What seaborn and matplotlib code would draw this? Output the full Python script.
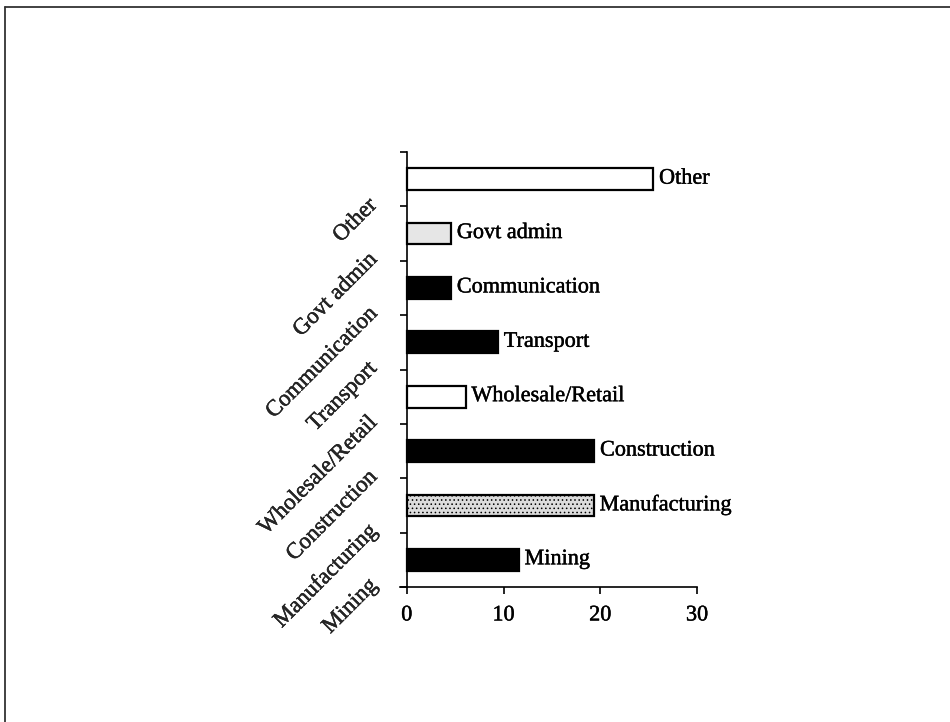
import numpy as np
import pandas as pd
import matplotlib
matplotlib.use("Agg")
import matplotlib.pyplot as plt
import matplotlib.patheffects as pe
from matplotlib.transforms import ScaledTranslation
from matplotlib.lines import Line2D
import seaborn as sns

# Share of employment by sector (%)
sectors = ["Other", "Govt admin", "Communication", "Transport",
           "Wholesale/Retail", "Construction", "Manufacturing", "Mining"]
shares = [25.5, 4.6, 4.6, 9.45, 6.1, 19.4, 19.35, 11.6]
x_ticks = [0, 10, 20, 30]

bar_colors = {
    "Other": "#ffffff",
    "Govt admin": "#e6e6e6",
    "Communication": "#000000",
    "Transport": "#000000",
    "Wholesale/Retail": "#ffffff",
    "Construction": "#000000",
    "Manufacturing": "#dcdcdc",
    "Mining": "#000000",
}

sns.set_theme(style="white")
plt.rcParams["font.family"] = ["Liberation Serif", "DejaVu Serif"]
plt.rcParams["hatch.linewidth"] = 0.6

# slightly heavier glyphs for all text
heavy = [pe.withStroke(linewidth=0.3, foreground="black")]

df = pd.DataFrame({"sector": sectors, "share": shares})

fig = plt.figure(figsize=(9.5, 7.22), dpi=100)
ax = fig.add_axes([400 / 950, 1 - 587 / 722, 297 / 950, 435 / 722])

sns.barplot(data=df, y="sector", x="share", hue="sector", order=sectors,
            palette=bar_colors, orient="h", width=0.40, legend=False,
            edgecolor="black", linewidth=1.6, saturation=1, ax=ax)

for patch, name in zip(ax.patches, sectors):
    if name == "Manufacturing":
        patch.set_hatch("....")

# Sector names next to the bar ends
for i, (name, val) in enumerate(zip(sectors, shares)):
    ax.annotate(name, xy=(val, i), xytext=(4, 0), textcoords="offset points",
                ha="left", va="center", fontsize=16, color="black",
                path_effects=heavy)

ax.set_xlim(-0.7, 30)
ax.set_ylim(len(sectors) - 0.5, -0.5)
ax.set_xlabel("")
ax.set_ylabel("")

ax.spines["top"].set_visible(False)
ax.spines["right"].set_visible(False)
ax.spines["left"].set_position(("data", 0))
for s in ("left", "bottom"):
    ax.spines[s].set_color("black")
    ax.spines[s].set_linewidth(1.2)

ax.set_xticks(x_ticks)
ax.set_xticklabels([str(t) for t in x_ticks], fontsize=16)
ax.tick_params(axis="x", direction="out", length=5, width=1.2, pad=9,
               colors="black", bottom=True)
for lbl in ax.get_xticklabels():
    lbl.set_path_effects(heavy)

# Boundary ticks between categories, labels centred on categories
ax.set_yticks(np.arange(-0.5, len(sectors), 1.0))
ax.set_yticklabels([])
ax.set_yticks(range(len(sectors)), minor=True)
ax.set_yticklabels(sectors, minor=True, fontsize=16.5, rotation=45,
                   ha="right", va="center", rotation_mode="anchor")
ax.tick_params(axis="y", which="major", direction="out", length=5,
               width=1.2, colors="black", left=True)
ax.tick_params(axis="y", which="minor", length=0, pad=0, left=True)
shift = ScaledTranslation(-0.33, -0.23, fig.dpi_scale_trans)
for lbl in ax.get_yticklabels(minor=True):
    lbl.set_transform(lbl.get_transform() + shift)
    lbl.set_path_effects(heavy)

# Frame lines along the top and left edges of the page
fig.add_artist(Line2D([5 / 950, 5 / 950], [0, 1 - 7 / 722],
                      transform=fig.transFigure, color="#333333", lw=1.3))
fig.add_artist(Line2D([5 / 950, 1], [1 - 7 / 722, 1 - 7 / 722],
                      transform=fig.transFigure, color="#333333", lw=1.3))

fig.savefig("out.png", dpi=100)
